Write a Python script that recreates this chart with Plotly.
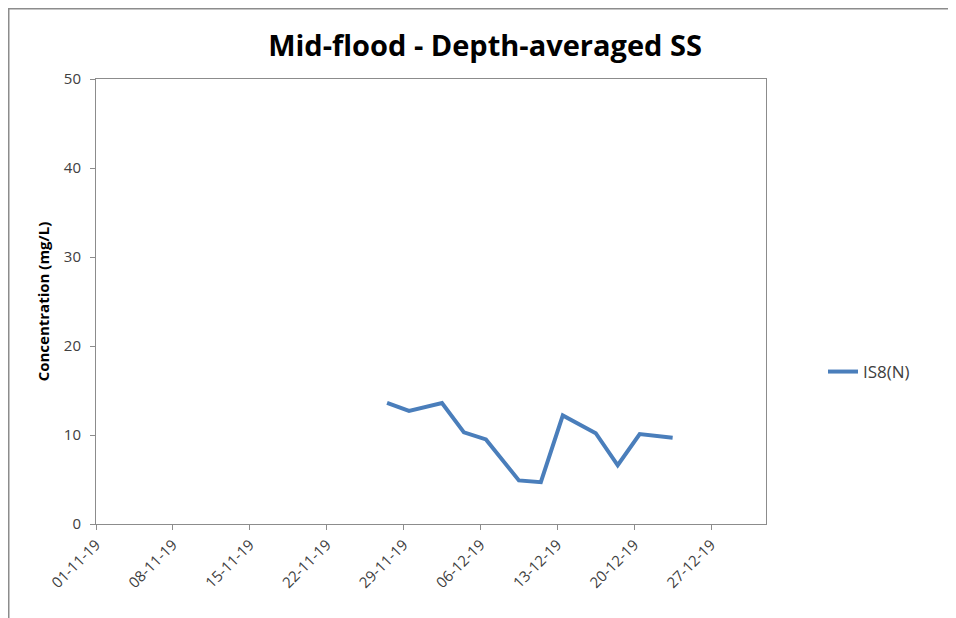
import plotly.graph_objects as go

# IS8(N) mid-flood depth-averaged SS (mg/L)
dates = [
    "2019-11-27 12:00", "2019-11-29 12:00", "2019-12-02 12:00", "2019-12-04 12:00",
    "2019-12-06 12:00", "2019-12-09 12:00", "2019-12-11 12:00", "2019-12-13 12:00",
    "2019-12-16 12:00", "2019-12-18 12:00", "2019-12-20 12:00", "2019-12-23 12:00",
]
is8_n = [13.6, 12.7, 13.6, 10.3, 9.5, 4.9, 4.7, 12.2, 10.2, 6.6, 10.1, 9.7]

series_name = "IS8(N)"
title_text = "Mid-flood - Depth-averaged SS"
y_title = "Concentration (mg/L)"

font_family = "Open Sans, Noto Sans, sans-serif"
axis_grey = "#8c8c8c"
text_grey = "#404040"

# the page body has an 8px margin, so the figure is sized to fit the window
W, H = 948, 610
ML, MR, MT, MB = 88, 190, 71, 94
PW, PH = W - ML - MR, H - MT - MB

fig = go.Figure()

fig.add_trace(go.Scatter(
    x=dates,
    y=is8_n,
    mode="lines",
    name=series_name,
    line=dict(color="#4a7ebb", width=4),
))

fig.update_xaxes(
    type="date",
    range=["2019-11-01", "2020-01-01"],
    tick0="2019-11-01",
    dtick=7 * 24 * 3600 * 1000,
    tickformat="%d-%m-%y",
    tickangle=-45,
    ticks="outside",
    ticklen=5,
    tickcolor=axis_grey,
    showline=True,
    linecolor=axis_grey,
    linewidth=1,
    mirror=True,
    showgrid=False,
    zeroline=False,
    tickfont=dict(family=font_family, size=15, color=text_grey),
)

fig.update_yaxes(
    range=[0, 50],
    dtick=10,
    ticks="outside",
    ticklen=5,
    tickcolor=axis_grey,
    ticklabelstandoff=6,
    showline=True,
    linecolor=axis_grey,
    linewidth=1,
    mirror=True,
    showgrid=False,
    zeroline=False,
    tickfont=dict(family=font_family, size=15, color=text_grey),
    title=dict(
        text=f"<b>{y_title}</b>",
        font=dict(family=font_family, size=15, color="black"),
        standoff=10,
    ),
)

# outer chart border (cropped at right and bottom in the original)
fig.add_shape(
    type="rect",
    xref="paper", yref="paper",
    x0=(0.75 - ML) / PW, x1=(W + 20 - ML) / PW,
    y0=-(MB + 20) / PH, y1=(PH + MT - 0.75) / PH,
    line=dict(color="#8c8c8c", width=1.5),
    fillcolor="rgba(0,0,0,0)",
    layer="below",
)

fig.update_layout(
    width=W,
    height=H,
    margin=dict(l=ML, r=MR, t=MT, b=MB),
    paper_bgcolor="white",
    plot_bgcolor="white",
    title=dict(
        text=f"<b>{title_text}</b>",
        font=dict(family=font_family, size=29, color="black"),
        x=(477 - ML) / PW,
        xref="paper",
        xanchor="center",
        y=1 - 38 / H,
        yanchor="middle",
    ),
    showlegend=True,
    legend=dict(
        x=(815 - ML) / PW,
        y=(PH + MT - 364) / PH,
        xanchor="left",
        yanchor="middle",
        font=dict(family=font_family, size=17, color=text_grey),
        bgcolor="rgba(0,0,0,0)",
    ),
)

fig.write_html("out.html")
